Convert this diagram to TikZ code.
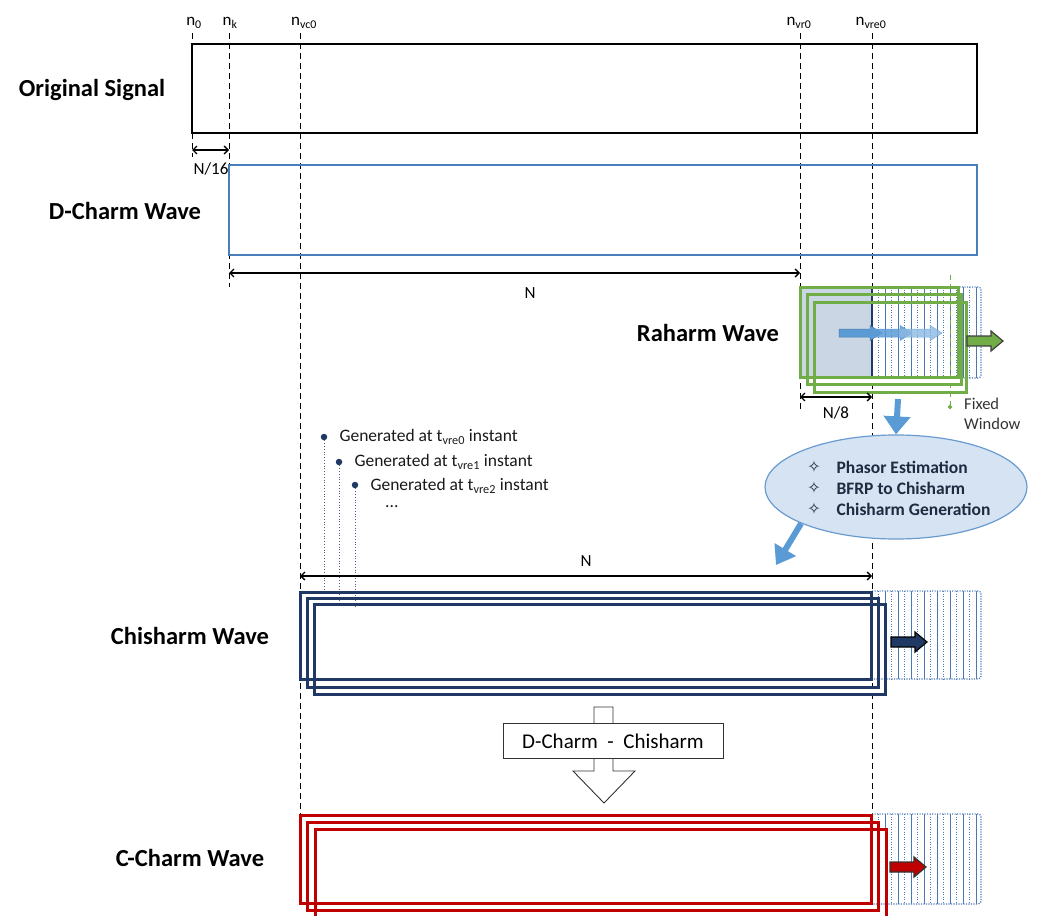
\documentclass[tikz,border=0pt]{standalone}
\usepackage{fontspec}
\setmainfont{Carlito}
\newfontfamily\symfont{DejaVu Sans}
\usetikzlibrary{arrows.meta,shapes.geometric}
\definecolor{dblue}{HTML}{4A7EBB}
\definecolor{rgreen}{HTML}{70AD47}
\definecolor{navy}{HTML}{1F3864}
\definecolor{cred}{HTML}{C00000}
\definecolor{hatchc}{HTML}{4A78B5}
\definecolor{ablue}{HTML}{5B9BD5}
\definecolor{shadec}{HTML}{CAD6E4}
\definecolor{ellfill}{HTML}{D5E3F3}
\definecolor{ellline}{HTML}{6A9BD0}
\definecolor{txtdark}{HTML}{1E2A40}
\tikzset{
  biglbl/.style={font=\fontsize{24.5}{28}\selectfont\bfseries},
  smlbl/.style={font=\fontsize{17}{20}\selectfont},
  genlbl/.style={font=\fontsize{17.5}{20}\selectfont, text=black!90, anchor=west},
  elllbl/.style={font=\fontsize{17.5}{20}\selectfont\bfseries, text=txtdark, anchor=west},
  ellsym/.style={font=\symfont\fontsize{16}{18}\selectfont, text=txtdark},
  vdash/.style={line width=0.9pt, dash pattern=on 6pt off 4pt},
  dimarr/.style={line width=1.3pt, {Straight Barb[length=4pt,width=8pt]}-{Straight Barb[length=4pt,width=8pt]}},
  wavebox/.style={line width=3pt},
  barrow/.pic={\path[pic actions] (0,-5) -- (24,-5) -- (24,-10) -- (36,0) -- (24,10) -- (24,5) -- (0,5) -- cycle;},
  sarrow/.pic={\path[pic actions] (0,-4) -- (31,-4) -- (31,-7.5) -- (43,0) -- (31,7.5) -- (31,4) -- (0,4) -- cycle;},
  hatchsolid/.style={hatchc, line width=1pt},
  hatchdot/.style={hatchc, line width=1.2pt, dash pattern=on 1.2pt off 1.3pt},
}
\newcommand{\myhatch}[2]{%
  \draw[hatchdot, rounded corners=3pt] (872,#1) -- (981,#1) -- (981,#2) -- (872,#2);
  \foreach \i in {1,...,16} {%
    \pgfmathsetmacro{\xx}{872+6.5*\i}%
    \ifodd\i
      \draw[hatchdot] (\xx,#1) -- (\xx,#2);
    \else
      \draw[hatchsolid] (\xx,#1) -- (\xx,#2);
    \fi
  }%
}
\begin{document}
\begin{tikzpicture}[x=1pt,y=-1pt]
\useasboundingbox (0,0) rectangle (1038,915);

% ---------- vertical reference lines ----------
\foreach \nm/\x/\yb in {a/192/157, b/229/287, c/300/816, d/800/410, e/872/816} {
  \coordinate (\nm t) at (\x,33);
  \coordinate (\nm b) at (\x,\yb);
  \draw[vdash] (\nm t) -- (\nm b);
}
\node[smlbl, anchor=base] (ln0) at (194,26) {n\textsubscript{0}};
\node[smlbl, anchor=base] (lnk) at (230,26) {n\textsubscript{k}};
\node[smlbl, anchor=base] (lnvc) at (304,26) {n\textsubscript{vc0}};
\node[smlbl, anchor=base] (lnvr) at (799,26) {n\textsubscript{vr0}};
\node[smlbl, anchor=base] (lnvre) at (871,26) {n\textsubscript{vre0}};

% ---------- Original signal ----------
\node[biglbl] (los) at (92,90) {Original Signal};
\draw[line width=2.4pt] (192,44) rectangle (977,133);

% N/16
\coordinate (d16a) at (192,150);
\coordinate (d16b) at (229,150);
\draw[dimarr] (d16a) -- (d16b);
\node[smlbl] (l16) at (211,169) {N/16};

% ---------- D-Charm ----------
\node[biglbl] (ldc) at (125,211) {D-Charm Wave};
\draw[dblue, line width=2.3pt] (229,165) rectangle (977,255);
\coordinate (dNa) at (229,273);
\coordinate (dNb) at (800,273);
\draw[dimarr] (dNa) -- (dNb);
\node[smlbl] (lN1) at (530,293) {N};

% ---------- Raharm ----------
\node[biglbl] (lrw) at (708,333) {Raharm Wave};
\myhatch{287}{378}
\fill[shadec] (800,287) rectangle (872,378);
\draw[navy, line width=1.4pt] (872,287) -- (872,378);
\draw[rgreen, wavebox] (800,287) rectangle (958,377);
\draw[rgreen, wavebox] (807,294) rectangle (961,384);
\draw[rgreen, wavebox] (814,302) rectangle (966,392);
\pic[fill=ablue, draw=ablue!80!black, line width=0.5pt] at (839,333) {sarrow};
\pic[fill=ablue, fill opacity=0.85, draw=ablue, line width=0.5pt] at (869,333) {sarrow};
\pic[fill=ablue!70, fill opacity=0.8, draw=ablue!80, line width=0.5pt] at (899,333) {sarrow};
\pic[fill=rgreen, draw=black!75, line width=1.2pt] at (967,341) {barrow};

% fixed window
\coordinate (fwt) at (950,275);
\coordinate (fwb) at (950,406);
\draw[rgreen, line width=0.9pt, dash pattern=on 5pt off 4pt] (fwt) -- (fwb);
\node[diamond, fill=rgreen, inner sep=0pt, minimum size=5pt] (fwd) at (950,407) {};
\node[font=\fontsize{16.5}{20}\selectfont, text=black!80, anchor=north west, align=left, inner sep=0pt] (lfw) at (964,398) {Fixed\\Window};

% N/8
\coordinate (d8a) at (800,397);
\coordinate (d8b) at (872,397);
\draw[dimarr] (d8a) -- (d8b);
\node[smlbl] (l8) at (836,413) {N/8};

% ---------- processing ellipse ----------
\coordinate (dwa) at (898,399);
\node[ellipse, draw=ellline, fill=ellfill, line width=1.2pt, minimum width=262pt, minimum height=104pt] (proc) at (896,487) {};
\draw[ablue, line width=6pt, -{Triangle[length=18pt,width=26pt]}] (dwa) -- (proc.north);
\node[ellsym] (s1) at (814,467) {✧};
\node[ellsym] (s2) at (814,488) {✧};
\node[ellsym] (s3) at (814,509) {✧};
\node[elllbl] (t1) at (833,467) {Phasor Estimation};
\node[elllbl] (t2) at (833,488) {BFRP to Chisharm};
\node[elllbl] (t3) at (833,509) {Chisharm Generation};
\coordinate (dgb) at (776,565);
\draw[ablue, line width=6pt, -{Triangle[length=18pt,width=24pt]}] (proc.201) -- (dgb);

% ---------- generated list ----------
\node[circle, fill=navy, inner sep=0pt, minimum size=6.5pt] (b1) at (324,437) {};
\node[circle, fill=navy, inner sep=0pt, minimum size=6.5pt] (b2) at (339,462) {};
\node[circle, fill=navy, inner sep=0pt, minimum size=6.5pt] (b3) at (355,485) {};
\node[genlbl] (g1) at (336,437) {Generated at t\textsubscript{vre0} instant};
\node[genlbl] (g2) at (351,462) {Generated at t\textsubscript{vre1} instant};
\node[genlbl] (g3) at (367,486) {Generated at t\textsubscript{vre2} instant};
\node[genlbl, inner sep=0pt] (g4) at (385,507) {...};
\coordinate (b1e) at (324,594);
\coordinate (b2e) at (339,600);
\coordinate (b3e) at (355,607);
\draw[navy!80, line width=0.8pt, dotted] (b1) -- (b1e);
\draw[navy!80, line width=0.8pt, dotted] (b2) -- (b2e);
\draw[navy!80, line width=0.8pt, dotted] (b3) -- (b3e);

% N (chisharm)
\coordinate (dN2a) at (300,576);
\coordinate (dN2b) at (872,576);
\draw[dimarr] (dN2a) -- (dN2b);
\node[smlbl] (lN2) at (586,561) {N};

% ---------- Chisharm ----------
\node[biglbl] (lch) at (190,636) {Chisharm Wave};
\myhatch{591}{679}
\draw[navy, wavebox] (300,592) rectangle (871,679);
\draw[navy, wavebox] (307,598) rectangle (878,687);
\draw[navy, wavebox] (314,604) rectangle (885,694);
\pic[fill=navy, draw=black, line width=1.2pt] at (891,642) {barrow};

% ---------- difference arrow ----------
\draw[black!80, fill=white, line width=0.9pt] (594,707) -- (613,707) -- (613,771) -- (635,771) -- (604,803) -- (573,771) -- (594,771) -- cycle;
\node[draw=black!80, fill=white, line width=0.9pt, minimum width=220pt, minimum height=35pt, font=\fontsize{21}{24}\selectfont] (diff) at (613,741) {D-Charm\ \ -\ \ Chisharm};

% ---------- C-Charm ----------
\node[biglbl] (lcc) at (190,858) {C-Charm Wave};
\myhatch{814}{904}
\draw[cred, wavebox] (300,815) rectangle (871,903);
\draw[cred, wavebox] (307,822) rectangle (878,910);
\draw[cred, wavebox] (315,829) rectangle (886,930);
\pic[fill=cred, draw=black!80, line width=1.2pt] at (890,867) {barrow};
\end{tikzpicture}
\end{document}
